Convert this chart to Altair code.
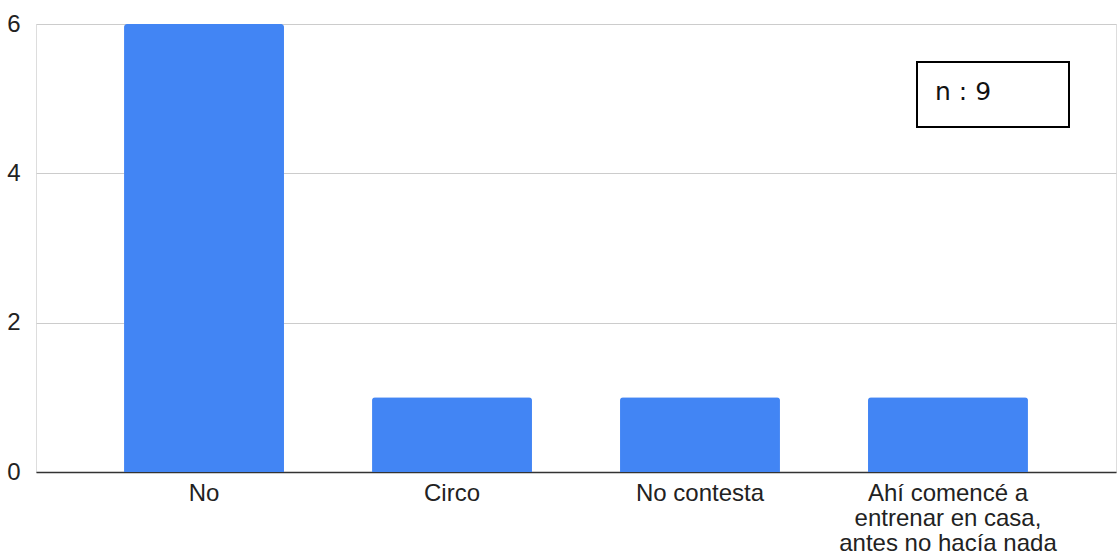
import altair as alt
import pandas as pd

categories = ["No", "Circo", "No contesta", "Ahí comencé a\nentrenar en casa,\nantes no hacía nada"]
counts = [6, 1, 1, 1]
y_ticks = [0, 2, 4, 6]
note = "n : 9"

df = pd.DataFrame({"cat": categories, "n": counts})

W, H = 1080, 448
FONT = "Liberation Sans"

bars = alt.Chart(df).mark_bar(
    color="#4285F4", cornerRadiusTopLeft=3, cornerRadiusTopRight=3
).encode(
    x=alt.X("cat:N", sort=categories, title=None,
            scale=alt.Scale(paddingInner=0.355, paddingOuter=0.355),
            axis=alt.Axis(labelAngle=0, labelFont=FONT, labelFontSize=24,
                          labelColor="#222222", labelPadding=9, ticks=False,
                          domainColor="#333333", domainWidth=1.5,
                          labelLineHeight=25, labelLimit=400,
                          labelExpr="split(datum.label, '\\n')")),
    y=alt.Y("n:Q", title=None,
            scale=alt.Scale(domain=[0, 6], nice=False),
            axis=alt.Axis(values=y_ticks, labelFont=FONT, labelFontSize=24,
                          labelColor="#222222", labelPadding=16, ticks=False,
                          domain=False, gridColor="#cccccc", gridWidth=1)),
)

box = alt.Chart(pd.DataFrame({"t": [note]})).mark_rect(
    fill="white", stroke="black", strokeWidth=2
).encode(
    x=alt.value(881), x2=alt.value(1033), y=alt.value(38), y2=alt.value(103)
)

txt = alt.Chart(pd.DataFrame({"t": [note]})).mark_text(
    font="DejaVu Sans", fontSize=25, align="left", baseline="middle", color="#111111"
).encode(
    text="t:N", x=alt.value(899), y=alt.value(68)
)

chart = alt.layer(bars, box, txt).properties(
    width=W, height=H,
    autosize=alt.AutoSizeParams(type="none"),
    padding={"left": 36, "top": 24, "right": 3, "bottom": 82},
).configure_view(stroke=None).configure(background="white")

chart.save("out.html", embed_options={"renderer": "svg", "actions": False})
